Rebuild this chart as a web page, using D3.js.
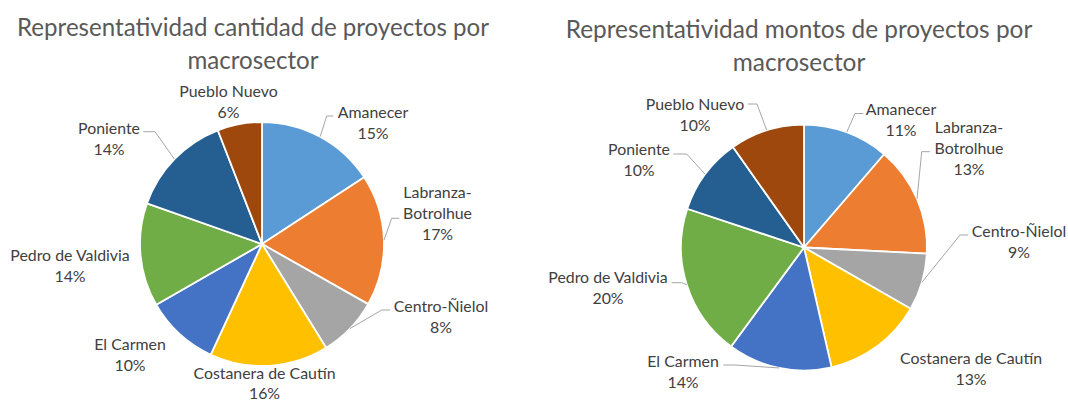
<!DOCTYPE html>
<html>
<head>
<meta charset="utf-8">
<script src="https://cdn.jsdelivr.net/npm/d3@7"></script>
<style>
  html, body { margin: 0; padding: 0; background: #ffffff; }
  svg { display: block; }
</style>
</head>
<body>
<div id="chart"></div>
<script>
// ---------- data ----------
const categories = ["Amanecer", "Labranza-Botrolhue", "Centro-Ñielol", "Costanera de Cautín",
                    "El Carmen", "Pedro de Valdivia", "Poniente", "Pueblo Nuevo"];
// share of each slice as drawn in the picture (percent)
const cantidadValues = [15.8, 17.4, 8.0, 15.7, 9.8, 13.7, 13.7, 5.9];
const cantidadLabels = ["15%", "17%", "8%", "16%", "10%", "14%", "14%", "6%"];
const montosValues   = [11.3, 14.5, 7.5, 13.1, 13.7, 20.0, 10.1, 9.8];
const montosLabels   = ["11%", "13%", "9%", "13%", "14%", "20%", "10%", "10%"];
const cantidadTitle = ["Representatividad cantidad de proyectos por", "macrosector"];
const montosTitle   = ["Representatividad montos de proyectos por", "macrosector"];
const sliceColors = ["#5B9BD5", "#ED7D31", "#A5A5A5", "#FFC000", "#4472C4", "#70AD47", "#255E91", "#9E480E"];

// ---------- layout ----------
const W = 1068, H = 401;
const FONT = "Lato, 'Open Sans', sans-serif";
const LINE = 21;

const charts = [
  {
    values: cantidadValues, pcts: cantidadLabels, title: cantidadTitle,
    cx: 262, cy: 244, r: 122,
    titleX: 253, titleY: [36, 69], titleW: 472,
    labels: [
      { dx: 111,  dy: -126, leader: [[71.3, -128], [64.7, -128]] },
      { dx: 175.5, dy: -46, wrap: true, leader: [[137.3, -25.7], [129.7, -25.7]] },
      { dx: 179,  dy: 67.5, leader: [[128, 66], [119.7, 66]] },
      { dx: 2.5,  dy: 134.5 },
      { dx: -132, dy: 106 },
      { dx: -192, dy: 17 },
      { dx: -153, dy: -110, leader: [[-118.7, -112.3], [-107, -112.3]] },
      { dx: -33.5, dy: -147 }
    ]
  },
  {
    values: montosValues, pcts: montosLabels, title: montosTitle,
    cx: 804, cy: 247.5, r: 123,
    titleX: 799, titleY: [38, 71], titleW: 467,
    labels: [
      { dx: 97,   dy: -132.5, leader: [[59.3, -134], [51, -134]] },
      { dx: 165,  dy: -114.5, wrap: true, leader: [[126, -95.8], [117.7, -95.8]] },
      { dx: 215,  dy: -10.8, leader: [[164.3, -12.5], [156, -12.5]] },
      { dx: 167,  dy: 116.5 },
      { dx: -121, dy: 119, leader: [[-80.7, 117.5], [-69, 117.5]] },
      { dx: -196, dy: 35.5, leader: [[-132.3, 35.2], [-122.3, 35.2]] },
      { dx: -165, dy: -92.5, leader: [[-130.7, -93.5], [-117.3, -93.5]] },
      { dx: -109, dy: -137.5, leader: [[-56, -143.5], [-47, -143.5]] }
    ]
  }
];

const svg = d3.select("#chart").append("svg")
  .attr("width", W).attr("height", H)
  .attr("viewBox", `0 0 ${W} ${H}`);
svg.append("rect").attr("width", W).attr("height", H).attr("fill", "#ffffff");

// measure helper to fit fonts to the picture's text widths
function fitSize(text, targetW, base) {
  const t = svg.append("text").attr("font-family", FONT).attr("font-size", base).text(text);
  const w = t.node().getComputedTextLength();
  t.remove();
  return base * targetW / w;
}
const labelSize = fitSize("Amanecer", 70.6, 17);

charts.forEach(cfg => {
  // title
  const tSize = fitSize(cfg.title[0], cfg.titleW, 26);
  svg.append("g").selectAll("text").data(cfg.title).join("text")
    .attr("x", cfg.titleX)
    .attr("y", (d, i) => cfg.titleY[i])
    .attr("text-anchor", "middle")
    .attr("font-family", FONT)
    .attr("font-size", tSize)
    .attr("fill", "#595959")
    .text(d => d);

  const data = categories.map((c, i) => ({ name: c, v: cfg.values[i], pct: cfg.pcts[i], color: sliceColors[i], lay: cfg.labels[i] }));
  const pie = d3.pie().sort(null).value(d => d.v).startAngle(0).endAngle(2 * Math.PI);
  const arcs = pie(data);
  const arc = d3.arc().innerRadius(0).outerRadius(cfg.r);

  const g = svg.append("g").attr("transform", `translate(${cfg.cx},${cfg.cy})`);

  g.selectAll("path.slice").data(arcs).join("path")
    .attr("class", "slice")
    .attr("d", arc)
    .attr("fill", d => d.data.color)
    .attr("stroke", "#ffffff")
    .attr("stroke-width", 1.8)
    .attr("stroke-linejoin", "round");

  // leader lines: label side -> elbow -> slice mid-angle on the rim
  g.selectAll("polyline.leader").data(arcs.filter(d => d.data.lay.leader)).join("polyline")
    .attr("class", "leader")
    .attr("points", d => {
      const mid = (d.startAngle + d.endAngle) / 2;
      const end = [cfg.r * Math.sin(mid), -cfg.r * Math.cos(mid)];
      const p = [d.data.lay.leader[0], d.data.lay.leader[1], end];
      return p.map(q => q.join(",")).join(" ");
    })
    .attr("fill", "none")
    .attr("stroke", "#A6A6A6")
    .attr("stroke-width", 1);

  // labels
  const lab = g.selectAll("text.lab").data(arcs).join("text")
    .attr("class", "lab")
    .attr("text-anchor", "middle")
    .attr("font-family", FONT)
    .attr("font-size", labelSize)
    .attr("fill", "#404040");
  lab.each(function(d) {
    const lay = d.data.lay;
    const lines = lay.wrap ? d.data.name.replace("-", "-\n").split("\n") : [d.data.name];
    lines.push(d.data.pct);
    d3.select(this).selectAll("tspan").data(lines).join("tspan")
      .attr("x", lay.dx)
      .attr("y", (t, i) => lay.dy + i * (i === lines.length - 1 && !lay.wrap && lay.dy > 130 ? 20 : LINE))
      .text(t => t);
  });
});
</script>
</body>
</html>
